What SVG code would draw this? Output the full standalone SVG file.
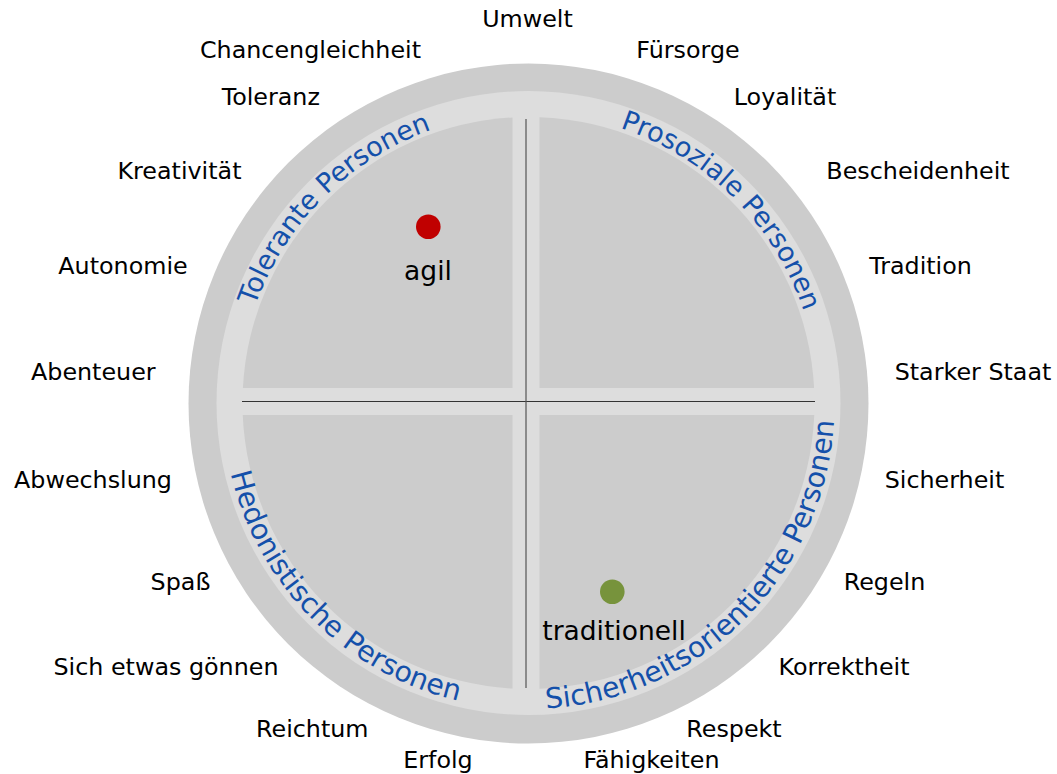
<svg xmlns="http://www.w3.org/2000/svg" xmlns:xlink="http://www.w3.org/1999/xlink" width="1057" height="774" viewBox="0 0 1057 774">
<style>
.lbl{font-family:"DejaVu Sans",Verdana,sans-serif;font-size:23.8px;fill:#000;text-anchor:middle}
.arc{font-family:"DejaVu Sans",Verdana,sans-serif;font-size:27px;fill:#1450aa}
.arcb{font-family:"DejaVu Sans",Verdana,sans-serif;font-size:28.3px;fill:#1450aa}
.pt{font-family:"DejaVu Sans",Verdana,sans-serif;font-size:26.5px;fill:#000;text-anchor:middle}
.q{fill:#cccccc}
</style>
<defs>
<path id="ptl" d="M238.5,403 A290,290 0 0 1 528.5,113"/>
<path id="ptr" d="M528.5,113 A290,290 0 0 1 818.5,403"/>
<path id="pbl" d="M222.5,403 A306,306 0 0 0 528.5,709"/>
<path id="pbr" d="M528.5,709 A306,306 0 0 0 834.5,403"/>
</defs>
<rect width="1057" height="774" fill="#fff"/>
<g id="disc">
<circle cx="528.5" cy="403.5" r="340" fill="#cccccc"/>
<circle cx="528.5" cy="403" r="312" fill="#dddddd"/>
</g>
<g id="q-tolerant">
<path class="q" d="M512.5,388 H242.9 A286,286 0 0 1 512.5,117.45 Z"/>
<text class="arc"><textPath xlink:href="#ptl" href="#ptl" startOffset="50%" text-anchor="middle">Tolerante Personen</textPath></text>
</g>
<g id="q-prosozial">
<path class="q" d="M539.5,388 V117.2 A286,286 0 0 1 814.1,388 Z"/>
<text class="arc"><textPath xlink:href="#ptr" href="#ptr" startOffset="50%" text-anchor="middle">Prosoziale Personen</textPath></text>
</g>
<g id="q-hedonistisch">
<path class="q" d="M512.5,415 H242.75 A286,286 0 0 0 512.5,688.55 Z"/>
<text class="arcb"><textPath xlink:href="#pbl" href="#pbl" startOffset="50%" text-anchor="middle">Hedonistische Personen</textPath></text>
</g>
<g id="q-sicherheit">
<path class="q" d="M539.5,415 V688.79 A286,286 0 0 0 814.25,415 Z"/>
<text class="arcb"><textPath xlink:href="#pbr" href="#pbr" startOffset="50%" text-anchor="middle">Sicherheitsorientierte Personen</textPath></text>
</g>
<g id="axes">
<line x1="242" y1="401.5" x2="815" y2="401.5" stroke="#333" stroke-width="1"/>
<line x1="526" y1="119" x2="526" y2="688" stroke="#555" stroke-width="1.2"/>
</g>
<g id="agil">
<circle cx="428.3" cy="226.7" r="12.3" fill="#c00000"/>
<text class="pt" x="428" y="280">agil</text>
</g>
<g id="traditionell">
<circle cx="612.3" cy="591.7" r="12.3" fill="#77933c"/>
<text class="pt" x="614" y="640">traditionell</text>
</g>
<g id="values">
<text class="lbl" x="527.5" y="27">Umwelt</text>
<text class="lbl" x="688" y="58">Fürsorge</text>
<text class="lbl" x="785" y="105">Loyalität</text>
<text class="lbl" x="918" y="179">Bescheidenheit</text>
<text class="lbl" x="920.5" y="274">Tradition</text>
<text class="lbl" x="973" y="380">Starker Staat</text>
<text class="lbl" x="944.5" y="488">Sicherheit</text>
<text class="lbl" x="884.5" y="590">Regeln</text>
<text class="lbl" x="844" y="675">Korrektheit</text>
<text class="lbl" x="734" y="736.5">Respekt</text>
<text class="lbl" x="651.5" y="768">Fähigkeiten</text>
<text class="lbl" x="438" y="768">Erfolg</text>
<text class="lbl" x="312.3" y="736.5">Reichtum</text>
<text class="lbl" x="166" y="675">Sich etwas gönnen</text>
<text class="lbl" x="180.5" y="590">Spaß</text>
<text class="lbl" x="93" y="488">Abwechslung</text>
<text class="lbl" x="93.3" y="380">Abenteuer</text>
<text class="lbl" x="123" y="274">Autonomie</text>
<text class="lbl" x="179.5" y="179">Kreativität</text>
<text class="lbl" x="270.8" y="105">Toleranz</text>
<text class="lbl" x="310.5" y="58">Chancengleichheit</text>
</g>
</svg>
